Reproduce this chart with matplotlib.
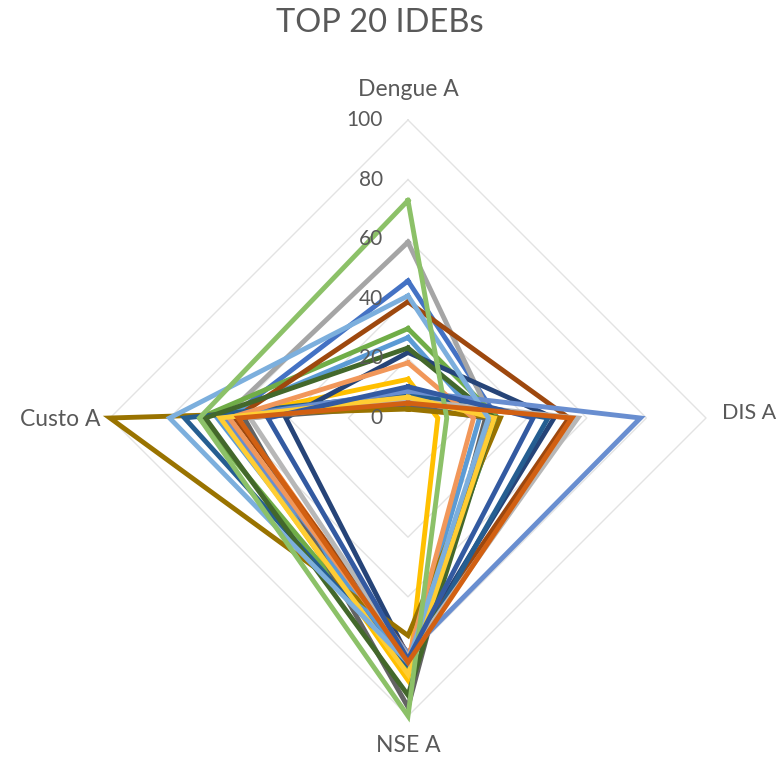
import numpy as np
import matplotlib
matplotlib.use("Agg")
import matplotlib.pyplot as plt

plt.rcParams['font.family'] = ['Lato', 'DejaVu Sans']

title = "TOP 20 IDEBs"
categories = ["Dengue A", "DIS A", "NSE A", "Custo A"]
ticks = [0, 20, 40, 60, 80, 100]

dengue = [46, 5, 59, 13, 27, 30, 22, 39, 4, 3, 8, 23.5, 9, 18.5, 6, 7, 41, 73, 10.5, 5]
dis    = [30, 55, 28, 10, 24, 30, 49, 54, 26, 31, 47, 29, 78, 22, 57, 29, 27, 13, 42, 55]
nse    = [84, 80, 82, 88, 82, 84, 80, 79, 97, 73, 83, 93, 79, 81, 80, 86, 82, 100, 81, 82]
custo  = [60, 57, 62, 62, 64, 70, 41, 58, 55, 100, 75, 68, 62, 60, 53, 63, 80, 70, 47, 57]

colors = ["#4472C4", "#ED7D31", "#A5A5A5", "#FFC000", "#5B9BD5", "#70AD47",
          "#264478", "#9E480E", "#636363", "#997300", "#255E91", "#43682B",
          "#698ED0", "#F1975A", "#B7B7B7", "#FFCD33", "#7CAFDD", "#8CC168",
          "#335AA1", "#D26012"]

text_color = "#595959"
grid_color = "#E3E3E3"

W, H = 780, 758
fig = plt.figure(figsize=(W / 100, H / 100), dpi=100)
cx, cy, R = 408, 418, 298
ax = fig.add_axes([(cx - R) / W, (H - cy - R) / H, 2 * R / W, 2 * R / H])
ax.set_xlim(-100, 100)
ax.set_ylim(-100, 100)
ax.axis("off")

# angles: top, right, bottom, left (clockwise)
angles = np.deg2rad([90, 0, -90, 180])
ux, uy = np.cos(angles), np.sin(angles)

# gridlines (diamonds)
for t in ticks[1:]:
    xs = np.append(ux * t, ux[0] * t)
    ys = np.append(uy * t, uy[0] * t)
    ax.plot(xs, ys, color=grid_color, lw=1.0, zorder=1, clip_on=False)

# series
for i in range(len(dengue)):
    vals = np.array([dengue[i], dis[i], nse[i], custo[i]], dtype=float)
    xs = np.append(ux * vals, ux[0] * vals[0])
    ys = np.append(uy * vals, uy[0] * vals[0])
    ax.plot(xs, ys, color=colors[i], lw=3.5, zorder=2 + i, clip_on=False,
            solid_joinstyle="miter")

# tick labels
s = 100 / R
for t in ticks:
    ax.text(-(cx - 383) * s, t, str(t), ha="right", va="center",
            fontsize=15, color=text_color, zorder=50)

# category labels
ax.text(0, 100 + (cy - R - 90) * s, categories[0], ha="center", va="center",
        fontsize=16.5, color=text_color)
ax.text((722 - cx) * s, (cy - 413) * s, categories[1], ha="left", va="center",
        fontsize=15.5, color=text_color)
ax.text(0, -(745 - cy) * s, categories[2], ha="center", va="center",
        fontsize=16.5, color=text_color)
ax.text(-(cx - 100) * s, (cy - 420) * s, categories[3], ha="right", va="center",
        fontsize=16.5, color=text_color)

fig.text(380 / W, 1 - 23 / H, title, ha="center", va="center",
         fontsize=23.5, color=text_color)

fig.savefig("out.png", dpi=100, facecolor="white")
